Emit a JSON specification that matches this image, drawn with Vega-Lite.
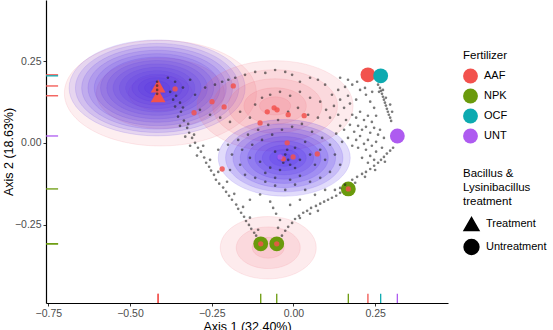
{
  "$schema": "https://vega.github.io/schema/vega-lite/v6.json",
  "width": 402,
  "height": 303,
  "autosize": {"type": "none"},
  "padding": {"left": 46, "top": 0, "right": 105, "bottom": 27},
  "background": "white",
  "config": {
    "view": {"stroke": null},
    "axis": {"domainColor": "black", "domainWidth": 1.2, "tickColor": "#333", "tickSize": 3, "tickWidth": 1, "labelFont": "Liberation Sans", "labelFontSize": 10.5, "labelColor": "#4d4d4d", "titleFont": "Liberation Sans", "titleFontSize": 12.5, "titleFontWeight": "normal", "titleColor": "black", "grid": false, "labelPadding": 2},
    "legend": {"titleFont": "Liberation Sans", "labelFont": "Liberation Sans", "titleFontSize": 11.5, "titleFontWeight": "normal", "titleColor": "black", "labelFontSize": 11, "labelColor": "black", "padding": 0, "symbolOffset": 0, "labelOffset": 6}
  },
  "datasets": {
    "ell": [
      {"g": "P1", "x": -0.407, "y": 0.152, "level": 1}, {"g": "P1", "x": -0.407, "y": 0.152, "level": 2}, {"g": "P1", "x": -0.407, "y": 0.152, "level": 3},
      {"g": "L", "x": -0.417, "y": 0.168, "level": 1}, {"g": "L", "x": -0.417, "y": 0.168, "level": 2}, {"g": "L", "x": -0.417, "y": 0.168, "level": 3}, {"g": "L", "x": -0.417, "y": 0.168, "level": 4}, {"g": "L", "x": -0.417, "y": 0.168, "level": 5}, {"g": "L", "x": -0.417, "y": 0.168, "level": 6}, {"g": "L", "x": -0.417, "y": 0.168, "level": 7}, {"g": "L", "x": -0.417, "y": 0.168, "level": 8}, {"g": "L", "x": -0.417, "y": 0.168, "level": 9}, {"g": "L", "x": -0.417, "y": 0.168, "level": 10}, {"g": "L", "x": -0.417, "y": 0.168, "level": 11}, {"g": "L", "x": -0.417, "y": 0.168, "level": 12}, {"g": "L", "x": -0.417, "y": 0.168, "level": 13}, {"g": "L", "x": -0.417, "y": 0.168, "level": 14},
      {"g": "P2", "x": -0.056, "y": 0.113, "level": 1}, {"g": "P2", "x": -0.056, "y": 0.113, "level": 2}, {"g": "P2", "x": -0.056, "y": 0.113, "level": 3}, {"g": "P2", "x": -0.056, "y": 0.113, "level": 4}, {"g": "P2", "x": -0.056, "y": 0.113, "level": 5},
      {"g": "M", "x": -0.028, "y": -0.046, "level": 1}, {"g": "M", "x": -0.028, "y": -0.046, "level": 2}, {"g": "M", "x": -0.028, "y": -0.046, "level": 3}, {"g": "M", "x": -0.028, "y": -0.046, "level": 4}, {"g": "M", "x": -0.028, "y": -0.046, "level": 5}, {"g": "M", "x": -0.028, "y": -0.046, "level": 6}, {"g": "M", "x": -0.028, "y": -0.046, "level": 7}, {"g": "M", "x": -0.028, "y": -0.046, "level": 8}, {"g": "M", "x": -0.028, "y": -0.046, "level": 9},
      {"g": "P3", "x": -0.077, "y": -0.321, "level": 1}, {"g": "P3", "x": -0.077, "y": -0.321, "level": 2}, {"g": "P3", "x": -0.077, "y": -0.321, "level": 3}
    ],
    "big": [
      {"Fertilizer": "AAF", "Bacillus": "Treatment", "x": -0.414, "y": 0.174},
      {"Fertilizer": "AAF", "Bacillus": "Treatment", "x": -0.414, "y": 0.144},
      {"Fertilizer": "AAF", "Bacillus": "Untreatment", "x": 0.228, "y": 0.208},
      {"Fertilizer": "OCF", "Bacillus": "Untreatment", "x": 0.267, "y": 0.205},
      {"Fertilizer": "UNT", "Bacillus": "Untreatment", "x": 0.318, "y": 0.021},
      {"Fertilizer": "NPK", "Bacillus": "Untreatment", "x": 0.168, "y": -0.141},
      {"Fertilizer": "NPK", "Bacillus": "Untreatment", "x": -0.100, "y": -0.309},
      {"Fertilizer": "NPK", "Bacillus": "Untreatment", "x": -0.051, "y": -0.309}
    ],
    "small": [
      {"Fertilizer": "AAF", "x": -0.362, "y": 0.165}, {"Fertilizer": "AAF", "x": -0.304, "y": 0.092}, {"Fertilizer": "AAF", "x": -0.184, "y": 0.174}, {"Fertilizer": "AAF", "x": -0.249, "y": 0.126}, {"Fertilizer": "AAF", "x": -0.212, "y": 0.110}, {"Fertilizer": "AAF", "x": -0.059, "y": 0.107}, {"Fertilizer": "AAF", "x": -0.050, "y": 0.101}, {"Fertilizer": "AAF", "x": -0.080, "y": 0.095}, {"Fertilizer": "AAF", "x": -0.016, "y": 0.086}, {"Fertilizer": "AAF", "x": 0.033, "y": 0.083}, {"Fertilizer": "AAF", "x": -0.102, "y": 0.061}, {"Fertilizer": "AAF", "x": -0.019, "y": 0.000}, {"Fertilizer": "AAF", "x": -0.001, "y": -0.043}, {"Fertilizer": "AAF", "x": -0.031, "y": -0.049}, {"Fertilizer": "AAF", "x": 0.073, "y": -0.034}, {"Fertilizer": "AAF", "x": -0.218, "y": -0.080},
      {"Fertilizer": "AAF", "x": -0.100, "y": -0.309}, {"Fertilizer": "AAF", "x": -0.051, "y": -0.309}, {"Fertilizer": "AAF", "x": 0.168, "y": -0.141},
      {"Fertilizer": "UNT", "x": -0.041, "y": -0.043}
    ],
    "grey": [
      {"x": -0.377, "y": 0.156}, {"x": -0.359, "y": 0.144}, {"x": -0.368, "y": 0.132}, {"x": -0.347, "y": 0.123}, {"x": -0.362, "y": 0.111}, {"x": -0.344, "y": 0.095}, {"x": -0.353, "y": 0.080}, {"x": -0.335, "y": 0.068}, {"x": -0.347, "y": 0.052}, {"x": -0.325, "y": 0.046}, {"x": -0.319, "y": 0.031}, {"x": -0.331, "y": 0.019}, {"x": -0.310, "y": 0.015}, {"x": -0.301, "y": 0.000}, {"x": -0.316, "y": -0.009}, {"x": -0.292, "y": -0.015}, {"x": -0.283, "y": -0.027}, {"x": -0.295, "y": -0.039}, {"x": -0.273, "y": -0.045}, {"x": -0.267, "y": -0.061}, {"x": -0.258, "y": -0.073}, {"x": -0.252, "y": -0.085}, {"x": -0.243, "y": -0.098}, {"x": -0.237, "y": -0.113}, {"x": -0.227, "y": -0.125}, {"x": -0.215, "y": -0.137}, {"x": -0.206, "y": -0.150}, {"x": -0.197, "y": -0.162}, {"x": -0.188, "y": -0.174}, {"x": -0.175, "y": -0.189}, {"x": -0.169, "y": -0.202}, {"x": -0.160, "y": -0.214}, {"x": -0.151, "y": -0.226}, {"x": -0.145, "y": -0.239}, {"x": -0.136, "y": -0.251}, {"x": -0.129, "y": -0.263}, {"x": -0.120, "y": -0.275}, {"x": -0.114, "y": -0.284},
      {"x": -0.338, "y": 0.108}, {"x": -0.322, "y": 0.058}, {"x": -0.304, "y": 0.025}, {"x": -0.276, "y": -0.009}, {"x": -0.255, "y": -0.052}, {"x": -0.230, "y": -0.089}, {"x": -0.203, "y": -0.119}, {"x": -0.181, "y": -0.156}, {"x": -0.154, "y": -0.196}, {"x": -0.133, "y": -0.229}, {"x": -0.108, "y": -0.266},
      {"x": -0.384, "y": 0.199}, {"x": -0.362, "y": 0.187}, {"x": -0.316, "y": 0.193}, {"x": -0.338, "y": 0.169}, {"x": -0.301, "y": 0.147},
      {"x": -0.417, "y": 0.187}, {"x": -0.417, "y": 0.175}, {"x": -0.417, "y": 0.162}, {"x": -0.417, "y": 0.150},
      {"x": -0.035, "y": -0.284}, {"x": -0.025, "y": -0.269}, {"x": -0.016, "y": -0.257}, {"x": -0.004, "y": -0.245}, {"x": 0.005, "y": -0.233}, {"x": 0.017, "y": -0.223}, {"x": 0.030, "y": -0.214}, {"x": 0.042, "y": -0.208}, {"x": 0.054, "y": -0.199}, {"x": 0.069, "y": -0.193}, {"x": 0.082, "y": -0.186}, {"x": 0.094, "y": -0.180}, {"x": 0.106, "y": -0.174}, {"x": 0.118, "y": -0.168}, {"x": 0.131, "y": -0.162}, {"x": 0.143, "y": -0.153}, {"x": -0.047, "y": -0.260}, {"x": -0.041, "y": -0.236}, {"x": -0.053, "y": -0.217}, {"x": -0.062, "y": -0.199}, {"x": -0.071, "y": -0.180},
      {"x": -0.148, "y": -0.098}, {"x": -0.117, "y": -0.107}, {"x": -0.086, "y": -0.119}, {"x": -0.056, "y": -0.131}, {"x": -0.025, "y": -0.144}, {"x": 0.005, "y": -0.128}, {"x": 0.036, "y": -0.144}, {"x": -0.102, "y": -0.158}, {"x": -0.133, "y": -0.174}, {"x": -0.010, "y": -0.190}, {"x": 0.020, "y": -0.174}, {"x": 0.066, "y": -0.159}, {"x": 0.097, "y": -0.144}, {"x": 0.020, "y": -0.230}, {"x": 0.051, "y": -0.217}, {"x": 0.075, "y": -0.208},
      {"x": 0.158, "y": -0.128}, {"x": 0.180, "y": -0.113}, {"x": 0.195, "y": -0.104}, {"x": 0.210, "y": -0.095}, {"x": 0.222, "y": -0.089}, {"x": 0.235, "y": -0.080}, {"x": 0.247, "y": -0.070}, {"x": 0.259, "y": -0.061}, {"x": 0.268, "y": -0.052}, {"x": 0.277, "y": -0.043}, {"x": 0.286, "y": -0.033}, {"x": 0.296, "y": -0.024}, {"x": 0.305, "y": -0.015}, {"x": 0.127, "y": -0.144}, {"x": 0.143, "y": -0.138}, {"x": 0.189, "y": -0.122}, {"x": 0.219, "y": -0.104}, {"x": 0.250, "y": -0.083}, {"x": 0.280, "y": -0.058},
      {"x": 0.259, "y": 0.178}, {"x": 0.265, "y": 0.168}, {"x": 0.268, "y": 0.159}, {"x": 0.271, "y": 0.150}, {"x": 0.274, "y": 0.141}, {"x": 0.277, "y": 0.132}, {"x": 0.280, "y": 0.123}, {"x": 0.283, "y": 0.114}, {"x": 0.286, "y": 0.104}, {"x": 0.289, "y": 0.095}, {"x": 0.292, "y": 0.086}, {"x": 0.296, "y": 0.077}, {"x": 0.299, "y": 0.067}, {"x": 0.262, "y": 0.156}, {"x": 0.274, "y": 0.162}, {"x": 0.283, "y": 0.138}, {"x": 0.296, "y": 0.117}, {"x": 0.302, "y": 0.095},
      {"x": 0.180, "y": 0.086}, {"x": 0.192, "y": 0.077}, {"x": 0.204, "y": 0.095}, {"x": 0.216, "y": 0.070}, {"x": 0.228, "y": 0.083}, {"x": 0.240, "y": 0.064}, {"x": 0.198, "y": 0.052}, {"x": 0.210, "y": 0.040}, {"x": 0.222, "y": 0.049}, {"x": 0.235, "y": 0.031}, {"x": 0.247, "y": 0.046}, {"x": 0.259, "y": 0.025}, {"x": 0.186, "y": 0.034}, {"x": 0.173, "y": 0.055}, {"x": 0.161, "y": 0.070}, {"x": 0.167, "y": 0.015}, {"x": 0.192, "y": 0.009}, {"x": 0.204, "y": 0.021}, {"x": 0.216, "y": -0.003}, {"x": 0.228, "y": 0.009}, {"x": 0.240, "y": -0.009}, {"x": 0.253, "y": 0.003}, {"x": 0.265, "y": 0.040}, {"x": 0.277, "y": 0.015}, {"x": 0.271, "y": -0.015}, {"x": 0.253, "y": -0.027}, {"x": 0.235, "y": -0.040}, {"x": 0.222, "y": -0.021}, {"x": 0.198, "y": -0.015}, {"x": 0.180, "y": -0.009}, {"x": 0.210, "y": -0.046}, {"x": 0.228, "y": -0.061}, {"x": 0.247, "y": -0.052}, {"x": 0.155, "y": 0.040}, {"x": 0.143, "y": 0.052}, {"x": 0.149, "y": 0.003}, {"x": 0.131, "y": 0.028}, {"x": 0.137, "y": 0.086}, {"x": 0.155, "y": 0.107}, {"x": 0.173, "y": 0.120}, {"x": 0.192, "y": 0.132}, {"x": 0.167, "y": 0.144}, {"x": 0.143, "y": 0.132}, {"x": 0.124, "y": 0.113}, {"x": 0.112, "y": 0.077}, {"x": 0.118, "y": 0.147}, {"x": 0.137, "y": 0.162}, {"x": 0.158, "y": 0.171}, {"x": 0.180, "y": 0.178}, {"x": 0.204, "y": 0.162}, {"x": 0.222, "y": 0.147}, {"x": 0.235, "y": 0.126}, {"x": 0.247, "y": 0.107}, {"x": 0.253, "y": 0.083},
      {"x": 0.143, "y": 0.199}, {"x": 0.167, "y": 0.193}, {"x": 0.195, "y": 0.187}, {"x": 0.219, "y": 0.168}, {"x": 0.241, "y": 0.156}, {"x": 0.097, "y": 0.178}, {"x": 0.075, "y": 0.193}, {"x": 0.051, "y": 0.199}, {"x": 0.020, "y": 0.187}, {"x": -0.004, "y": 0.208}, {"x": -0.025, "y": 0.217}, {"x": -0.056, "y": 0.223}, {"x": -0.086, "y": 0.214}, {"x": -0.117, "y": 0.217}, {"x": -0.148, "y": 0.208}, {"x": -0.178, "y": 0.199}, {"x": -0.199, "y": 0.193}, {"x": -0.218, "y": 0.187}, {"x": -0.240, "y": 0.178}, {"x": -0.270, "y": 0.169},
      {"x": -0.286, "y": 0.101}, {"x": -0.255, "y": 0.086}, {"x": -0.224, "y": 0.077}, {"x": -0.194, "y": 0.064}, {"x": -0.163, "y": 0.095}, {"x": -0.133, "y": 0.077}, {"x": -0.117, "y": 0.117}, {"x": -0.096, "y": 0.138}, {"x": -0.071, "y": 0.147}, {"x": -0.041, "y": 0.156}, {"x": -0.010, "y": 0.144}, {"x": 0.020, "y": 0.156}, {"x": 0.051, "y": 0.138}, {"x": 0.082, "y": 0.126}, {"x": 0.100, "y": 0.101}, {"x": 0.075, "y": 0.077}, {"x": 0.045, "y": 0.086}, {"x": 0.014, "y": 0.107}, {"x": -0.016, "y": 0.095}, {"x": -0.047, "y": 0.070}, {"x": -0.077, "y": 0.055}, {"x": -0.108, "y": 0.040}, {"x": -0.139, "y": 0.025}, {"x": -0.169, "y": 0.009}, {"x": -0.200, "y": -0.006}, {"x": -0.230, "y": -0.021}, {"x": -0.188, "y": -0.036}, {"x": -0.157, "y": -0.021}, {"x": -0.126, "y": -0.006}, {"x": -0.096, "y": 0.009}, {"x": -0.065, "y": 0.025}, {"x": -0.035, "y": 0.040}, {"x": -0.004, "y": 0.049}, {"x": 0.026, "y": 0.058}, {"x": 0.057, "y": 0.034}, {"x": 0.088, "y": 0.015}, {"x": 0.112, "y": -0.006}, {"x": 0.082, "y": -0.021}, {"x": 0.051, "y": -0.036}, {"x": 0.020, "y": -0.052}, {"x": -0.010, "y": -0.067}, {"x": -0.041, "y": -0.083}, {"x": -0.071, "y": -0.076}, {"x": -0.102, "y": -0.058}, {"x": -0.133, "y": -0.046}, {"x": -0.163, "y": -0.067}, {"x": -0.194, "y": -0.083}, {"x": 0.005, "y": -0.015}, {"x": 0.036, "y": 0.003}, {"x": 0.066, "y": -0.067}, {"x": 0.097, "y": -0.052}, {"x": 0.127, "y": -0.036}, {"x": 0.143, "y": -0.067}, {"x": 0.112, "y": -0.089}, {"x": 0.082, "y": -0.107}, {"x": 0.051, "y": -0.119}, {"x": 0.020, "y": -0.101}, {"x": -0.010, "y": -0.113}, {"x": -0.056, "y": -0.107}, {"x": -0.086, "y": -0.092}, {"x": -0.025, "y": -0.036}, {"x": -0.056, "y": -0.027}, {"x": -0.016, "y": -0.052}, {"x": 0.005, "y": -0.077}, {"x": -0.031, "y": -0.061}, {"x": -0.019, "y": -0.021}
    ]
  },
  "encoding": {
    "x": {"field": "x", "type": "quantitative", "scale": {"domain": [-0.757, 0.473], "nice": false, "zero": false}, "axis": {"title": "Axis 1 (32.40%)", "values": [-0.75, -0.5, -0.25, 0, 0.25], "format": ".2f", "titlePadding": 2}},
    "y": {"field": "y", "type": "quantitative", "scale": {"domain": [-0.49, 0.437], "nice": false, "zero": false}, "axis": {"title": "Axis 2 (18.63%)", "values": [-0.25, 0, 0.25], "format": ".2f", "titlePadding": -1}}
  },
  "layer": [
    {
      "data": {"name": "ell"},
      "transform": [{"filter": "datum.g == 'P1'"}],
      "mark": {"type": "point", "shape": "M-1,0A1,0.55,0,1,1,1,0A1,0.55,0,1,1,-1,0Z", "filled": true, "opacity": 1, "fill": "#EE5A6E", "fillOpacity": 0.1, "stroke": "#EE5A6E", "strokeOpacity": 0.2, "strokeWidth": 0.6},
      "encoding": {"size": {"field": "level", "type": "quantitative", "scale": {"type": "pow", "exponent": 2, "domain": [0, 3], "range": [0, 36864]}, "legend": null}}
    },
    {
      "data": {"name": "ell"},
      "transform": [{"filter": "datum.g == 'L'"}],
      "mark": {"type": "point", "shape": "M-1,0A1,0.545,0,1,1,1,0A1,0.545,0,1,1,-1,0Z", "filled": true, "opacity": 1, "fill": "#4B2BE8", "fillOpacity": 0.13, "stroke": "#4B2BE8", "strokeOpacity": 0.22, "strokeWidth": 0.6},
      "encoding": {"size": {"field": "level", "type": "quantitative", "scale": {"type": "pow", "exponent": 2, "domain": [0, 14], "range": [0, 30976]}, "legend": null}}
    },
    {
      "data": {"name": "ell"},
      "transform": [{"filter": "datum.g == 'P2'"}],
      "mark": {"type": "point", "shape": "M-1,0A1,0.58,0,1,1,1,0A1,0.58,0,1,1,-1,0Z", "filled": true, "opacity": 1, "fill": "#EE5A6E", "fillOpacity": 0.12, "stroke": "#EE5A6E", "strokeOpacity": 0.2, "strokeWidth": 0.6},
      "encoding": {"size": {"field": "level", "type": "quantitative", "scale": {"type": "pow", "exponent": 2, "domain": [0, 5], "range": [0, 24336]}, "legend": null}}
    },
    {
      "data": {"name": "ell"},
      "transform": [{"filter": "datum.g == 'M'"}],
      "mark": {"type": "point", "shape": "M-1,0A1,0.58,0,1,1,1,0A1,0.58,0,1,1,-1,0Z", "filled": true, "opacity": 1, "fill": "#4B2BE8", "fillOpacity": 0.17, "stroke": "#4B2BE8", "strokeOpacity": 0.22, "strokeWidth": 0.6},
      "encoding": {"size": {"field": "level", "type": "quantitative", "scale": {"type": "pow", "exponent": 2, "domain": [0, 9], "range": [0, 17424]}, "legend": null}}
    },
    {
      "data": {"name": "ell"},
      "transform": [{"filter": "datum.g == 'P3'"}],
      "mark": {"type": "point", "shape": "M-1,0A1,0.65,0,1,1,1,0A1,0.65,0,1,1,-1,0Z", "filled": true, "opacity": 1, "fill": "#EE5A6E", "fillOpacity": 0.12, "stroke": "#EE5A6E", "strokeOpacity": 0.2, "strokeWidth": 0.6},
      "encoding": {"size": {"field": "level", "type": "quantitative", "scale": {"type": "pow", "exponent": 2, "domain": [0, 3], "range": [0, 9216]}, "legend": null}}
    },
    {
      "data": {"name": "big"},
      "mark": {"type": "point", "filled": true, "opacity": 1, "size": 220},
      "encoding": {
        "color": {"field": "Fertilizer", "type": "nominal", "scale": {"domain": ["AAF", "NPK", "OCF", "UNT"], "range": ["#F2524D", "#6A9A0C", "#0DAAB0", "#AE5BF0"]}, "legend": {"title": "Fertilizer", "orient": "none", "legendX": 417, "legendY": 50, "symbolType": "circle", "symbolSize": 220, "symbolOpacity": 1, "symbolStrokeWidth": 0, "titlePadding": 7, "rowPadding": 5}},
        "shape": {"field": "Bacillus", "type": "nominal", "scale": {"domain": ["Treatment", "Untreatment"], "range": ["triangle-up", "circle"]}, "legend": {"title": ["Bacillus &", "Lysinibacillus", "treatment"], "titleLineHeight": 14, "orient": "none", "legendX": 417, "legendY": 168, "symbolSize": 220, "symbolFillColor": "black", "symbolStrokeColor": "black", "symbolOpacity": 1, "titlePadding": 8, "rowPadding": 3}}
      }
    },
    {
      "data": {"name": "grey"},
      "mark": {"type": "point", "filled": true, "opacity": 0.6, "size": 7, "color": "#222222"},
      "encoding": {}
    },
    {
      "data": {"name": "small"},
      "mark": {"type": "point", "filled": true, "opacity": 0.85, "size": 28},
      "encoding": {"color": {"field": "Fertilizer", "type": "nominal", "scale": {"domain": ["AAF", "NPK", "OCF", "UNT"], "range": ["#F2524D", "#6A9A0C", "#0DAAB0", "#AE5BF0"]}, "legend": null}}
    },
    {
      "data": {"name": "big"},
      "mark": {"type": "rule", "strokeWidth": 1.3},
      "encoding": {"y": {"datum": -0.49}, "y2": {"datum": -0.4615}, "color": {"field": "Fertilizer", "type": "nominal", "scale": {"domain": ["AAF", "NPK", "OCF", "UNT"], "range": ["#F2524D", "#6A9A0C", "#0DAAB0", "#AE5BF0"]}, "legend": null}}
    },
    {
      "data": {"name": "big"},
      "mark": {"type": "rule", "strokeWidth": 1.3},
      "encoding": {"x": {"datum": -0.757}, "x2": {"datum": -0.72}, "color": {"field": "Fertilizer", "type": "nominal", "scale": {"domain": ["AAF", "NPK", "OCF", "UNT"], "range": ["#F2524D", "#6A9A0C", "#0DAAB0", "#AE5BF0"]}, "legend": null}}
    }
  ],
  "resolve": {"scale": {"size": "independent"}}
}
